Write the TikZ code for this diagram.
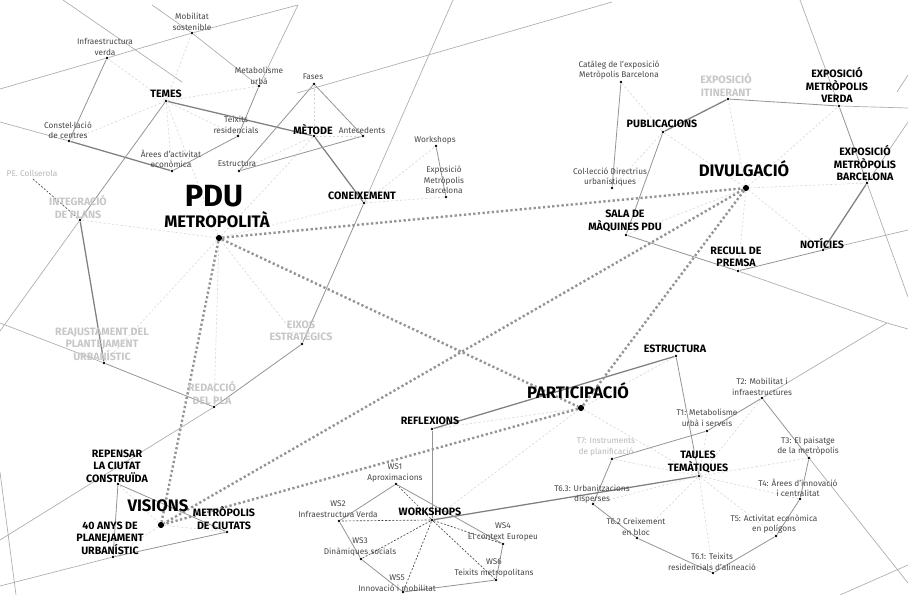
\documentclass[tikz,border=0pt]{standalone}
\usepackage{fontspec}
\setmainfont{Fira Sans}
\begin{document}
\begin{tikzpicture}[x=0.75pt,y=-0.75pt,
 dot/.style={circle,fill=black,inner sep=0pt,minimum size=2.2pt},
 hub/.style={circle,fill=black,inner sep=0pt,minimum size=4.6pt},
 sm/.style={font=\fontsize{6.2}{7.8}\selectfont,text=black!72,align=center,inner sep=0pt},
 smg/.style={sm,text=black!28},
 bl/.style={font=\fontsize{8}{9.3}\selectfont\bfseries,text=black,align=center,inner sep=0pt},
 gl/.style={bl,text=black!22},
 hl/.style={font=\fontsize{12.5}{13}\selectfont\bfseries,text=black,inner sep=0pt},
 bg/.style={draw=black!32,line width=0.5pt},
 ln/.style={draw=black!42,line width=0.6pt},
 st/.style={draw=black!50,line width=0.95pt},
 ld/.style={draw=black!16,line width=0.45pt,dash pattern=on 1.6pt off 1.6pt},
 wd/.style={draw=black!70,line width=0.5pt,dash pattern=on 1.5pt off 1.2pt},
 md/.style={draw=black!42,line width=1.8pt,dash pattern=on 1.7pt off 1.8pt}]
\fill[white] (0,0) rectangle (908,595);
\useasboundingbox (0,0) rectangle (908,595);

% ---------- free ends of background lines
\coordinate (eA) at (0,89);
\coordinate (eB) at (298,5);
\coordinate (eC) at (152,5);
\coordinate (eD) at (63,0);
\coordinate (eD2) at (182,82);
\coordinate (eE) at (0,122);
\coordinate (eF) at (0,331);
\coordinate (eG) at (0,323);
\coordinate (eH) at (453,0);
\coordinate (eI) at (0,540);
\coordinate (eJ) at (297,93);
\coordinate (eJ2) at (612,2);
\coordinate (eK) at (908,108);
\coordinate (eL) at (800,0);
\coordinate (eL2) at (908,297);
\coordinate (eM) at (908,122);
\coordinate (eN) at (897,92);
\coordinate (eN2) at (908,75);
\coordinate (eO) at (908,230);
\coordinate (eP) at (887,323);
\coordinate (eP2) at (908,329);
\coordinate (eQ) at (908,583);
\coordinate (eR) at (840,595);
\coordinate (eR2) at (908,565);
\coordinate (eS) at (0,586);
\coordinate (eT) at (0,472);
\coordinate (eT2) at (16,595);
\coordinate (collser) at (33,179);

% ---------- dots
\node[hub] (pdu) at (219,238) {};
\node[hub] (div) at (746,188) {};
\node[hub] (part) at (581,408) {};
\node[hub] (vis) at (161,525) {};

\node[dot] (temes) at (166,101) {};
\node[dot] (metode) at (314,136) {};
\node[dot] (coneix) at (364,203) {};
\node[dot] (integ) at (80,220) {};
\node[dot] (reaj) at (104,363) {};
\node[dot] (redac) at (214,407) {};
\node[dot] (eixos) at (302,344) {};

\node[dot] (infv) at (107,58) {};
\node[dot] (mobs) at (192,33) {};
\node[dot] (metu) at (259,86) {};
\node[dot] (teix) at (238,136) {};
\node[dot] (const) at (69,141) {};
\node[dot] (arees) at (172,171) {};
\node[dot] (fases) at (314,84) {};
\node[dot] (antec) at (363,136) {};
\node[dot] (estr) at (239,171) {};
\node[dot] (wshop) at (436,146) {};
\node[dot] (expmb) at (446,197) {};

\node[dot] (publ) at (663,132) {};
\node[dot] (itin) at (728,99) {};
\node[dot] (verda) at (839,106) {};
\node[dot] (barc) at (867,183) {};
\node[dot] (notic) at (823,250) {};
\node[dot] (recull) at (738,271) {};
\node[dot] (sala) at (626,235) {};
\node[dot] (catal) at (621,82) {};
\node[dot] (colle) at (612,188) {};

\node[dot] (estru) at (676,356) {};
\node[dot] (refl) at (432,429) {};
\node[dot] (works) at (432,520) {};
\node[dot] (taules) at (699,476) {};
\node[dot] (t1) at (707,431) {};
\node[dot] (t2) at (762,398) {};
\node[dot] (t3) at (809,458) {};
\node[dot] (t4) at (800,499) {};
\node[dot] (t5) at (776,536) {};
\node[dot] (t61) at (713,573) {};
\node[dot] (t62) at (637,538) {};
\node[dot] (t63) at (593,504) {};
\node[dot] (t7) at (612,459) {};
\node[dot] (ws1) at (396,484) {};
\node[dot] (ws2) at (339,521) {};
\node[dot] (ws3) at (361,559) {};
\node[dot] (ws4) at (503,544) {};
\node[dot] (ws5) at (403,592) {};
\node[dot] (ws6) at (496,580) {};

\node[dot] (repen) at (118,484) {};
\node[dot] (metc) at (227,532) {};
\node[dot] (anys) at (113,557) {};

% ---------- solid lines
\draw[bg] (eA)--(infv)--(mobs)--(eB);
\draw[bg] (eB)--(metu);
\draw[ln] (metu)--(teix);
\draw[bg] (eC)--(mobs)--(metu);
\draw[bg] (eD)--(eD2);
\draw[bg] (eE)--(const);
\draw[st] (const)--(arees);
\draw[ln] (arees)--(teix);
\draw[ln] (infv)--(const);
\draw[st] (temes)--(metode);
\draw[ln] (temes)--(integ);
\draw[bg] (integ)--(eF);
\draw[st] (integ)--(reaj);
\draw[bg] (eG)--(reaj);
\draw[ln] (reaj)--(redac);
\draw[bg] (eH)--(coneix);
\draw[ln] (coneix)--(eixos);
\draw[ln] (eixos)--(redac);
\draw[bg] (redac)--(eI);
\draw[st] (metode)--(coneix);
\draw[ln] (fases)--(antec);
\draw[ln] (fases)--(estr);
\draw[ln] (estr)--(antec);
\draw[bg] (eJ)--(eJ2);
\draw[ln] (wshop)--(expmb);
\draw[ln] (catal)--(colle);
\draw[st] (publ)--(itin);
\draw[ln] (itin)--(verda);
\draw[bg] (verda)--(eK);
\draw[bg] (eL)--(verda);
\draw[ln] (verda)--(barc);
\draw[bg] (barc)--(eL2);
\draw[bg] (barc)--(eM);
\draw[bg] (eN)--(eN2);
\draw[st] (barc)--(notic);
\draw[bg] (eO)--(notic);
\draw[ln] (notic)--(recull);
\draw[ln] (recull)--(sala);
\draw[bg] (recull)--(eP)--(eP2);
\draw[ln] (sala)--(publ);
\draw[ln] (t7)--(t1);
\draw[ln] (t1)--(t2);
\draw[bg] (t2)--(eP);
\draw[ln] (t7)--(t63);
\draw[ln] (t63)--(t62);
\draw[ln] (t62)--(t61);
\draw[ln] (t61)--(t5);
\draw[ln] (t5)--(t4);
\draw[ln] (t4)--(t3);
\draw[ln] (t3)--(t2);
\draw[bg] (t3)--(eQ);
\draw[bg] (eR)--(eR2);
\draw[st] (refl)--(estru);
\draw[ln] (estru)--(taules);
\draw[ln] (refl)--(works);
\draw[st] (works)--(taules);
\draw[ln] (ws1)--(ws2);
\draw[ln] (ws2)--(ws3);
\draw[ln] (ws3)--(ws5);
\draw[ln] (ws5)--(ws6);
\draw[ln] (ws6)--(ws4);
\draw[ln] (ws4)--(ws1);
\draw[ln] (repen)--(metc);
\draw[ln] (repen)--(anys);
\draw[bg] (eS)--(anys);
\draw[ln] (anys)--(metc);
\draw[bg] (eT)--(eT2);

% ---------- light dotted spokes
\foreach \a in {temes,metode,coneix,integ,reaj,redac,eixos} \draw[ld] (pdu)--(\a);
\foreach \a in {infv,mobs,metu,teix,arees,const} \draw[ld] (temes)--(\a);
\foreach \a in {fases,antec,estr} \draw[ld] (metode)--(\a);
\foreach \a in {wshop,expmb} \draw[ld] (coneix)--(\a);
\foreach \a in {publ,itin,verda,barc,notic,recull,sala} \draw[ld] (div)--(\a);
\foreach \a in {catal,colle} \draw[ld] (publ)--(\a);
\foreach \a in {estru,refl,works,taules} \draw[ld] (part)--(\a);
\foreach \a in {t1,t2,t3,t4,t5,t61,t62,t63,t7} \draw[ld] (taules)--(\a);
\foreach \a in {repen,metc,anys} \draw[ld] (vis)--(\a);
\foreach \a in {ws1,ws2,ws3,ws4,ws5,ws6} \draw[wd] (works)--(\a);
\draw[wd] (collser)--(integ);

% ---------- main dotted links
\draw[md] (pdu)--(div);
\draw[md] (pdu)--(part);
\draw[md] (pdu)--(vis);
\draw[md] (div)--(part);
\draw[md] (div)--(vis);
\draw[md] (part)--(vis);

% ---------- labels
\node[font=\fontsize{23}{24}\selectfont\bfseries,inner sep=0pt] (pdu-t) at (214,196) {PDU};
\node[hl] (pdu-t2) at (217,220) {METROPOLITÀ};
\node[hl] (div-t) at (744,169) {DIVULGACIÓ};
\node[hl] (part-t) at (578,391) {PARTICIPACIÓ};
\node[hl] (vis-t) at (158,506) {VISIONS};

\node[bl] (temes-t) at (166,94) {TEMES};
\node[bl] (metode-t) at (313,129) {MÈTODE};
\node[bl] (coneix-t) at (362,196) {CONEIXEMENT};
\node[gl] (integ-t) at (78,207) {INTEGRACIÓ\\DE PLANS};
\node[gl] (reaj-t) at (102,344) {REAJUSTAMENT DEL\\PLANTEJAMENT\\URBANÍSTIC};
\node[gl] (redac-t) at (212,393) {REDACCIÓ\\DEL PLA};
\node[gl] (eixos-t) at (301,331) {EIXOS\\ESTRATÈGICS};

\node[sm] (infv-t) at (105,47) {Infraestructura\\verda};
\node[sm] (mobs-t) at (192,22) {Mobilitat\\sostenible};
\node[sm] (metu-t) at (259,76) {Metabolisme\\urbà};
\node[sm] (teix-t) at (236,125) {Teixits\\residencials};
\node[sm] (const-t) at (68,130) {Constel·lació\\de centres};
\node[sm] (arees-t) at (171,159) {Àrees d'activitat\\econòmica};
\node[sm] (fases-t) at (313,77) {Fases};
\node[sm] (antec-t) at (362,130) {Antecedents};
\node[sm] (estr-t) at (237,164) {Estructura};
\node[sm] (wshop-t) at (435,140) {Workshops};
\node[sm] (expmb-t) at (444,180) {Exposició\\Metròpolis\\Barcelona};
\node[smg] (collser-t) at (32,173) {PE. Collserola};

\node[bl] (publ-t) at (662,124) {PUBLICACIONS};
\node[gl] (itin-t) at (726,85) {EXPOSICIÓ\\ITINERANT};
\node[bl] (verda-t) at (837,85) {EXPOSICIÓ\\METRÒPOLIS\\VERDA};
\node[bl] (barc-t) at (865,163) {EXPOSICIÓ\\METRÒPOLIS\\BARCELONA};
\node[bl] (notic-t) at (822,243) {NOTÍCIES};
\node[bl] (recull-t) at (736,257) {RECULL DE\\PREMSA};
\node[bl] (sala-t) at (625,221) {SALA DE\\MÀQUINES PDU};
\node[sm] (catal-t) at (619,70) {Catàleg de l'exposició\\Metròpolis Barcelona};
\node[sm] (colle-t) at (610,177) {Col·lecció Directrius\\urbanístiques};

\node[bl] (estru-t) at (675,349) {ESTRUCTURA};
\node[bl] (refl-t) at (430,421) {REFLEXIONS};
\node[bl] (works-t) at (430,512) {WORKSHOPS};
\node[bl] (taules-t) at (698,462) {TAULES\\TEMÀTIQUES};
\node[sm] (t1-t) at (707,418) {T1: Metabolisme\\urbà i serveis};
\node[sm] (t2-t) at (762,387) {T2: Mobilitat i\\infraestructures};
\node[sm] (t3-t) at (808,446) {T3: El paisatge\\de la metròpolis};
\node[sm] (t4-t) at (798,488) {T4: Àrees d'innovació\\i centralitat};
\node[sm] (t5-t) at (774,524) {T5: Activitat econòmica\\en polígons};
\node[sm] (t61-t) at (712,562) {T6.1: Teixits\\residencials d'alineació};
\node[sm] (t62-t) at (636,527) {T6.2 Creixement\\en bloc};
\node[sm] (t63-t) at (592,494) {T6.3: Urbanitzacions\\disperses};
\node[smg] (t7-t) at (606,447) {T7: Instruments\\de planificació};
\node[sm] (ws1-t) at (395,473) {WS1\\Aproximacions};
\node[sm] (ws2-t) at (338,509) {WS2\\Infraestructura Verda};
\node[sm] (ws3-t) at (360,547) {WS3\\Dinàmiques socials};
\node[sm] (ws4-t) at (503,532) {WS4\\El context Europeu};
\node[sm] (ws5-t) at (397,583) {WS5\\Innovació i mobilitat};
\node[sm] (ws6-t) at (494,568) {WS6\\Teixits metropolitans};

\node[bl] (repen-t) at (117,466) {REPENSAR\\LA CIUTAT\\CONSTRUÏDA};
\node[bl] (metc-t) at (224,518) {METRÒPOLIS\\DE CIUTATS};
\node[bl] (anys-t) at (110,538) {40 ANYS DE\\PLANEJAMENT\\URBANÍSTIC};
\end{tikzpicture}
\end{document}
